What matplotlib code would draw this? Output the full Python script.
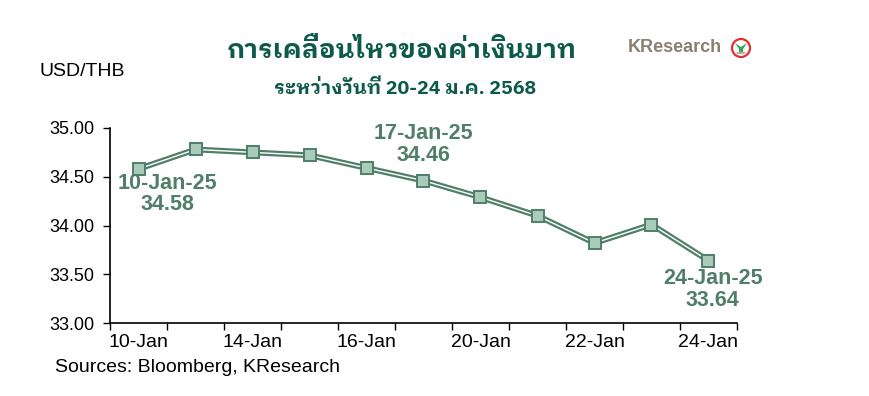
import matplotlib
matplotlib.use("Agg")
import matplotlib.pyplot as plt
from matplotlib.patches import Ellipse, Polygon

# ── Data ────────────────────────────────────────────────────────────────────
dates = ["10-Jan", "13-Jan", "14-Jan", "15-Jan", "16-Jan", "17-Jan",
         "20-Jan", "21-Jan", "22-Jan", "23-Jan", "24-Jan"]
usd_thb = [34.58, 34.78, 34.75, 34.72, 34.59, 34.46,
           34.29, 34.10, 33.82, 34.01, 33.64]
y_ticks = [33.0, 33.5, 34.0, 34.5, 35.0]

# (index, label, text offset in points)
callouts = [(0, "10-Jan-25\n34.58", (21, -18)),
            (5, "17-Jan-25\n34.46", (0, 26)),
            (10, "24-Jan-25\n33.64", (3, -21))]

title = "การเคลื่อนไหวของค่าเงินบาท"
subtitle = "ระหว่างวันที่ 20-24 ม.ค. 2568"

# ── Style ───────────────────────────────────────────────────────────────────
plt.rcParams["font.family"] = ["Liberation Sans", "DejaVu Sans"]
THAI = ["IBM Plex Sans Thai Looped", "Liberation Sans", "DejaVu Sans"]
DARK = "#4f7f68"
FACE = "#a9cbb9"
TITLE_C = "#0d5a4a"

fig = plt.figure(figsize=(8.7, 3.96), dpi=100)
ax = fig.add_axes([110 / 870, 1 - 323 / 396, 627 / 870, 195 / 396])

x = list(range(len(dates)))
ax.plot(x, usd_thb, color=DARK, lw=4.2, solid_capstyle="butt", zorder=2)
ax.plot(x, usd_thb, color="white", lw=1.0, zorder=3)
ax.plot(x, usd_thb, ls="none", marker="s", ms=9, mfc=FACE, mec=DARK,
        mew=1.4, zorder=4)

for i, txt, off in callouts:
    ax.annotate(txt, (x[i], usd_thb[i]), xytext=off, textcoords="offset points",
                ha="center", va="center", fontsize=15.5, fontweight="bold",
                color=DARK, linespacing=1.05, zorder=5)

ax.set_xlim(-0.5, len(dates) - 0.5)
ax.set_ylim(33, 35)
ax.set_yticks(y_ticks)
ax.set_yticklabels([f"{v:.2f}" for v in y_ticks])
ax.set_xticks([i - 0.5 for i in range(len(dates) + 1)])
ax.set_xticklabels([])
ax.set_xticks(x[::2], minor=True)
ax.set_xticklabels(dates[::2], minor=True)
ax.tick_params(axis="x", which="major", direction="out", length=5, width=1)
ax.tick_params(axis="x", which="minor", length=0, pad=8, labelsize=14)
ax.tick_params(axis="y", direction="out", length=5, width=1, pad=6,
               labelsize=13)
for s in ("top", "right"):
    ax.spines[s].set_visible(False)
for s in ("left", "bottom"):
    ax.spines[s].set_linewidth(1.2)

# ── Titles and notes ────────────────────────────────────────────────────────
fig.text(402 / 870, 1 - 51 / 396, title, ha="center", va="center",
         fontsize=18.8, fontweight="bold", color=TITLE_C, family=THAI)
fig.text(405 / 870, 1 - 89 / 396, subtitle, ha="center", va="center",
         fontsize=14, fontweight="bold", color=TITLE_C, family=THAI)
fig.text(40 / 870, 1 - 71 / 396, "USD/THB", ha="left", va="center",
         fontsize=14)
fig.text(55 / 870, 1 - 368 / 396, "Sources: Bloomberg, KResearch",
         ha="left", va="center", fontsize=14)

# KResearch logo
fig.text(628 / 870, 1 - 48 / 396, "KResearch", ha="left", va="center",
         fontsize=13, fontweight="bold", color="#8a8070")
lx, ly = 741 / 870, 1 - 48 / 396
px, py = 1 / 870, 1 / 396
fig.patches.append(Ellipse((lx, ly), 18 * px, 18 * py, transform=fig.transFigure,
                           fc="white", ec="#e0312a", lw=1.6))
fig.patches.append(Polygon([(lx - 6 * px, ly + 5 * py), (lx, ly + 1 * py),
                            (lx + 6 * px, ly + 5 * py), (lx + 2 * px, ly - 1 * py),
                            (lx + 2 * px, ly - 4 * py), (lx - 2 * px, ly - 4 * py),
                            (lx - 2 * px, ly - 1 * py)],
                           closed=True, transform=fig.transFigure,
                           fc="#2fa84f", ec="none"))
fig.patches.append(Ellipse((lx, ly - 5 * py), 10 * px, 2.5 * py,
                           transform=fig.transFigure, fc="#b5b0a8", ec="none"))

fig.savefig("out.png", dpi=100)
